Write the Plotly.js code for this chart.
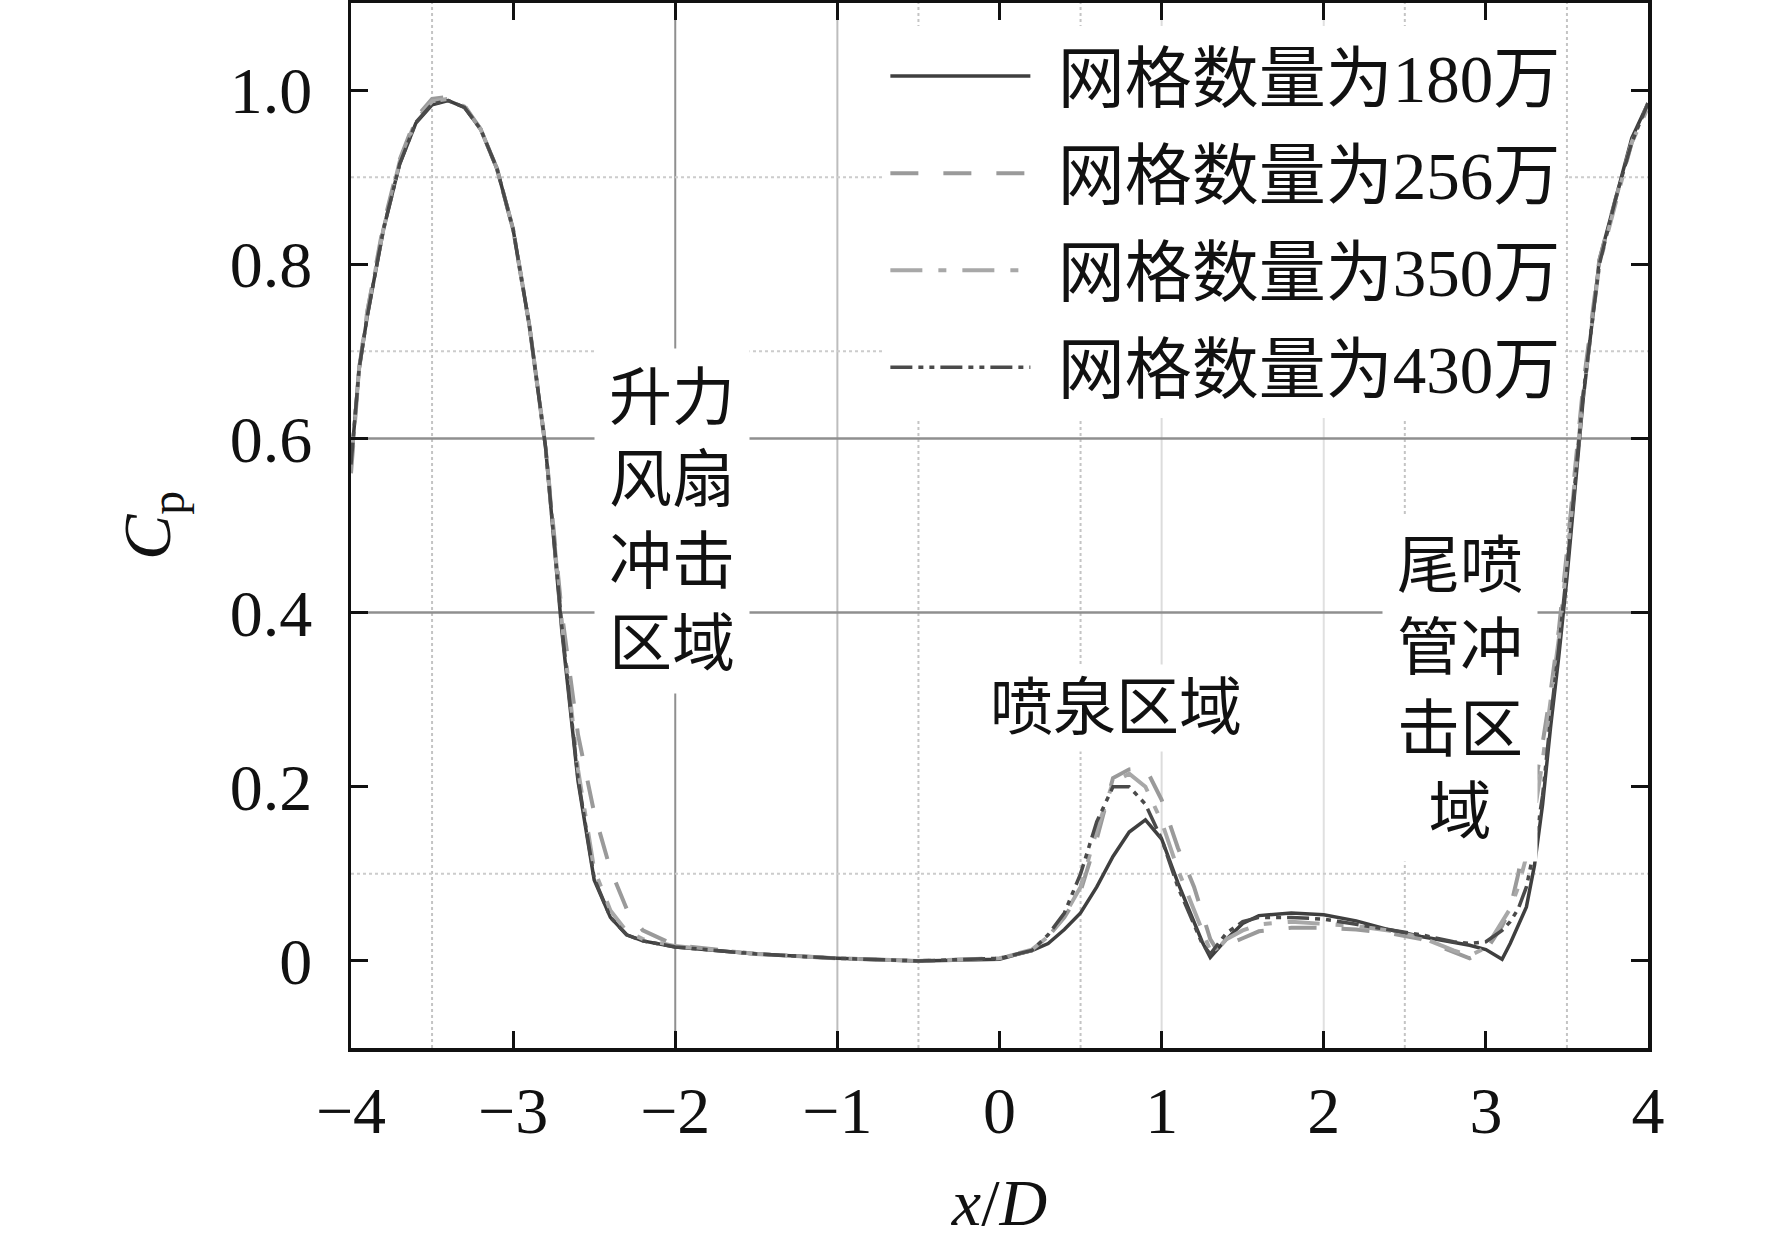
<!DOCTYPE html>
<html>
<head>
<meta charset="utf-8">
<script src="https://cdn.plot.ly/plotly-3.0.1.min.js"></script>
<style>
  html, body { margin: 0; padding: 0; background: #fff; }
  #chart { width: 1772px; height: 1239px; }
</style>
</head>
<body>
<div id="chart"></div>
<script>
// x/D positions shared by all four grids
const xD = [
  -4, -3.95, -3.9, -3.85, -3.8, -3.7, -3.6, -3.5, -3.4, -3.3, -3.2, -3.1, -3.0,
  -2.9, -2.8, -2.7, -2.6, -2.5, -2.4, -2.3, -2.2, -2.0, -1.5, -1.0, -0.5, 0,
  0.2, 0.3, 0.4, 0.5, 0.6, 0.7, 0.8, 0.9, 1.0, 1.1, 1.2, 1.25, 1.3, 1.35, 1.4,
  1.5, 1.6, 1.8, 2.0, 2.2, 2.4, 2.6, 2.8, 2.9, 3.0, 3.1, 3.15, 3.2, 3.25, 3.3,
  3.35, 3.4, 3.45, 3.5, 3.55, 3.6, 3.7, 3.8, 3.9, 4.0
];

// Cp, 1.8 million cells
const cp180 = [
  0.57, 0.68, 0.74, 0.79, 0.84, 0.915, 0.962, 0.983, 0.988, 0.980, 0.955, 0.91, 0.84,
  0.73, 0.59, 0.38, 0.207, 0.093, 0.05, 0.03, 0.023, 0.016, 0.008, 0.003, 0.0, 0.002,
  0.012, 0.02, 0.036, 0.055, 0.085, 0.12, 0.148, 0.162, 0.14, 0.09, 0.045, 0.022, 0.004, 0.014, 0.025,
  0.043, 0.052, 0.055, 0.053, 0.046, 0.036, 0.028, 0.022, 0.018, 0.013, 0.002, 0.02, 0.04, 0.062, 0.11,
  0.18, 0.27, 0.35, 0.44, 0.54, 0.645, 0.805, 0.875, 0.945, 0.985
];

// Cp, 2.56 million cells
const cp256 = [
  0.56, 0.68, 0.745, 0.795, 0.845, 0.92, 0.968, 0.99, 0.992, 0.982, 0.955, 0.91, 0.84,
  0.73, 0.59, 0.40, 0.26, 0.17, 0.105, 0.06, 0.035, 0.018, 0.008, 0.003, 0.0, 0.003,
  0.012, 0.028, 0.05, 0.08, 0.14, 0.21, 0.22, 0.222, 0.185, 0.13, 0.085, 0.055, 0.025, 0.01, 0.018,
  0.026, 0.034, 0.038, 0.038, 0.036, 0.032, 0.025, 0.01, 0.003, 0.012, 0.04, 0.06, 0.1, 0.15, 0.2,
  0.25, 0.31, 0.38, 0.47, 0.56, 0.66, 0.805, 0.875, 0.94, 0.985
];

// Cp, 3.5 million cells
const cp350 = [
  0.57, 0.68, 0.745, 0.79, 0.84, 0.918, 0.965, 0.987, 0.99, 0.981, 0.955, 0.91, 0.84,
  0.73, 0.59, 0.39, 0.22, 0.105, 0.058, 0.034, 0.025, 0.017, 0.008, 0.003, 0.0, 0.003,
  0.013, 0.028, 0.052, 0.085, 0.15, 0.205, 0.215, 0.2, 0.16, 0.105, 0.06, 0.035, 0.012, 0.015, 0.025,
  0.035, 0.042, 0.045, 0.043, 0.04, 0.035, 0.027, 0.012, 0.006, 0.015, 0.045, 0.06, 0.085, 0.12, 0.17,
  0.23, 0.3, 0.37, 0.46, 0.55, 0.65, 0.80, 0.87, 0.94, 0.98
];

// Cp, 4.3 million cells
const cp430 = [
  0.57, 0.68, 0.74, 0.79, 0.84, 0.915, 0.963, 0.984, 0.988, 0.980, 0.955, 0.91, 0.84,
  0.73, 0.59, 0.385, 0.21, 0.095, 0.05, 0.03, 0.023, 0.016, 0.008, 0.003, 0.0, 0.003,
  0.012, 0.03, 0.055, 0.1, 0.16, 0.2, 0.2, 0.18, 0.14, 0.085, 0.04, 0.02, 0.008, 0.02, 0.032,
  0.045, 0.05, 0.05, 0.048, 0.042, 0.036, 0.03, 0.022, 0.02, 0.022, 0.035, 0.045, 0.06, 0.085, 0.13,
  0.19, 0.28, 0.36, 0.45, 0.55, 0.65, 0.80, 0.875, 0.94, 0.985
];

const seriesNames = ["网格数量为180万", "网格数量为256万", "网格数量为350万", "网格数量为430万"];
const seriesColors = ["#3f3f3f", "#9a9a9a", "#a8a8a8", "#4a4a4a"];
const seriesWidth = [3.5, 4, 4, 3.5];
const seriesDash = ["solid", "28px,25px", "32px,16px,8px,16px", "22px,6px,5px,6px,5px,6px"];

const xTicks = [-4, -3, -2, -1, 0, 1, 2, 3, 4];
const yTicks = [0, 0.2, 0.4, 0.6, 0.8, 1.0];
const yTickText = ["0", "0.2", "0.4", "0.6", "0.8", "1.0"];

// reference lines of the original figure
const gridSolidX = [-2, -1, 1, 2];
const gridSolidXColor = ["#8f8f8f", "#bdbdbd", "#dcdcdc", "#e0e0e0"];
const gridDotX = [-3.5, -0.5, 0.5, 2.5, 3.5];
const gridSolidY = [0.4, 0.6];
const gridDotY = [0.1, 0.7, 0.9];

const FONT = "Liberation Serif, Noto Sans CJK SC, serif";

const traces = seriesNames.map((name, i) => ({
  x: xD,
  y: [cp180, cp256, cp350, cp430][i],
  name: "\u2004" + name,
  type: "scatter",
  mode: "lines",
  legendgroup: "g" + i,
  line: { color: seriesColors[i], width: seriesWidth[i], dash: seriesDash[i] },
}));

const shapes = [];
gridSolidX.forEach((v, i) => shapes.push({
  type: "line", layer: "below", xref: "x", yref: "paper", x0: v, x1: v, y0: 0, y1: 1,
  line: { color: gridSolidXColor[i], width: 2 },
}));
gridDotX.forEach((v) => shapes.push({
  type: "line", layer: "below", xref: "x", yref: "paper", x0: v, x1: v, y0: 0, y1: 1,
  line: { color: "#c4c4c4", width: 2, dash: "dot" },
}));
gridSolidY.forEach((v) => shapes.push({
  type: "line", layer: "below", xref: "paper", yref: "y", x0: 0, x1: 1, y0: v, y1: v,
  line: { color: "#8f8f8f", width: 2.5 },
}));
gridDotY.forEach((v) => shapes.push({
  type: "line", layer: "below", xref: "paper", yref: "y", x0: 0, x1: 1, y0: v, y1: v,
  line: { color: "#cccccc", width: 2, dash: "dot" },
}));

const labelStyle = {
  showarrow: false,
  xref: "x",
  yref: "y",
  bgcolor: "#ffffff",
  borderpad: 14,
  font: { family: FONT, size: 63, color: "#111" },
};

const annotations = [
  { ...labelStyle, x: -2.02, y: 0.505, text: "升力<br>风扇<br>冲击<br>区域" },
  { ...labelStyle, x: 0.72, y: 0.29, text: "喷泉区域", borderpad: 8 },
  { ...labelStyle, x: 2.84, y: 0.312, text: "尾喷<br>管冲<br>击区<br>域" },
];

const layout = {
  width: 1772,
  height: 1239,
  margin: { l: 351, r: 124, t: 3, b: 191, pad: 0 },
  paper_bgcolor: "#ffffff",
  plot_bgcolor: "#ffffff",
  font: { family: FONT, color: "#111", size: 66 },
  showlegend: true,
  legend: {
    x: 0.412,
    y: 0.978,
    xanchor: "left",
    yanchor: "top",
    bgcolor: "#ffffff",
    borderwidth: 0,
    itemwidth: 140,
    tracegroupgap: 7,
    font: { family: FONT, size: 67, color: "#111" },
  },
  xaxis: {
    range: [-4, 4],
    tickvals: xTicks,
    ticks: "inside",
    ticklen: 17,
    tickwidth: 3,
    tickcolor: "#111",
    ticklabelstandoff: 2,
    showline: true,
    linewidth: 3.5,
    linecolor: "#111",
    mirror: "ticks",
    showgrid: false,
    zeroline: false,
    tickfont: { family: FONT, size: 66 },
    title: { text: "<i>x</i>/<i>D</i>", font: { family: FONT, size: 66 }, standoff: 40 },
  },
  yaxis: {
    range: [-0.1, 1.1],
    tickvals: yTicks,
    ticktext: yTickText,
    ticks: "inside",
    ticklen: 17,
    tickwidth: 3,
    tickcolor: "#111",
    ticklabelstandoff: 22,
    showline: true,
    linewidth: 3.5,
    linecolor: "#111",
    mirror: "ticks",
    showgrid: false,
    zeroline: false,
    tickfont: { family: FONT, size: 66 },
    title: { text: "<i>C</i><sub>p</sub>", font: { family: FONT, size: 68 }, standoff: 38 },
  },
  shapes: shapes,
  annotations: annotations,
};

const config = {
  displaylogo: false,
  displayModeBar: false,
  staticPlot: true,
};

Plotly.newPlot("chart", traces, layout, config);
</script>
</body>
</html>
